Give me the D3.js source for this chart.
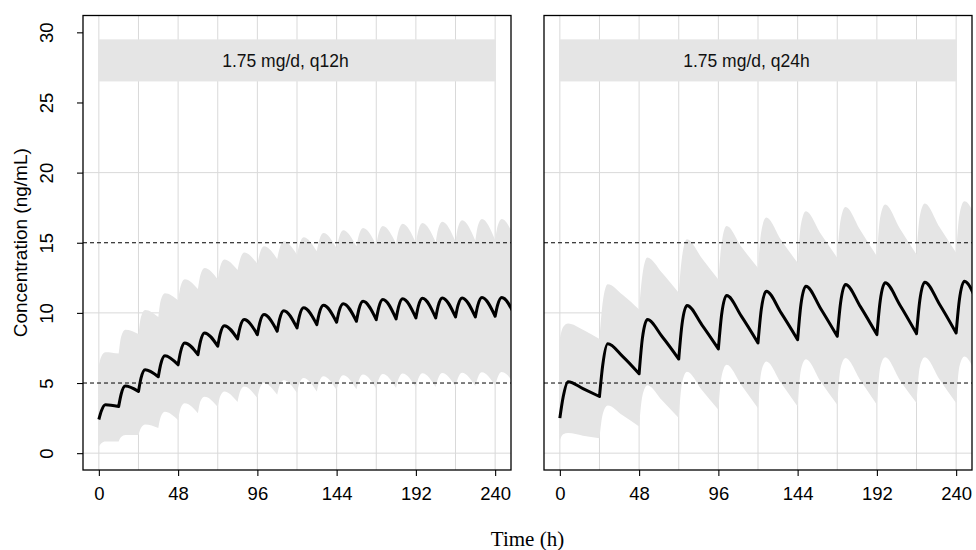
<!DOCTYPE html>
<html>
<head>
<meta charset="utf-8">
<script src="https://cdn.jsdelivr.net/npm/d3@7"></script>
<style>
  body { margin: 0; background: #ffffff; }
  svg { display: block; font-family: "Liberation Sans", Arial, sans-serif; }
</style>
</head>
<body>
<svg id="drawing_region"></svg>
<script>
// ---- data ----
const panelLabels = ["1.75 mg/d, q12h", "1.75 mg/d, q24h"];
const xTicks = [0, 48, 96, 144, 192, 240];
const yTicks = [0, 5, 10, 15, 20, 25, 30];
const xGrid = [0, 24, 48, 72, 96, 120, 144, 168, 192, 216, 240];
const yGrid = [0, 10, 20];
const targetLines = [5, 15];
const stripSpan = [26.5, 29.5];

const doseTimesQ12 = [0, 12, 24, 36, 48, 60, 72, 84, 96, 108, 120, 132, 144, 156, 168, 180, 192, 204, 216, 228, 240];
const timeQ12 = [0,1.5,4, 12,13.5,16, 24,25.5,28, 36,37.5,40, 48,49.5,52, 60,61.5,64, 72,73.5,76, 84,85.5,88,
  96,97.5,100, 108,109.5,112, 120,121.5,124, 132,133.5,136, 144,145.5,148, 156,157.5,160, 168,169.5,172,
  180,181.5,184, 192,193.5,196, 204,205.5,208, 216,217.5,220, 228,229.5,232, 240,241.5,244, 252];
const medianQ12 = [2.4,3.0,3.45, 3.33,4.2,4.78, 4.4,5.33,5.95, 5.45,6.35,6.95, 6.3,7.23,7.85, 7.02,7.95,8.57,
  7.62,8.5,9.09, 8.14,8.97,9.52, 8.45,9.31,9.88, 8.69,9.57,10.16, 8.93,9.79,10.36, 9.16,9.99,10.55,
  9.33,10.13,10.66, 9.4,10.26,10.83, 9.52,10.38,10.95, 9.57,10.43,11.0, 9.64,10.48,11.04, 9.64,10.5,11.07,
  9.71,10.53,11.07, 9.71,10.54,11.1, 9.76,10.56,11.1, 9.78];
const upperQ12 = [6.3,6.9,7.2, 7.1,8.3,8.8, 8.5,9.7,10.2, 9.7,10.9,11.4, 10.9,11.9,12.4, 11.7,12.7,13.2,
  12.4,13.3,13.8, 13.05,13.8,14.3, 13.5,14.25,14.75, 13.85,14.6,15.1, 14.15,14.9,15.4, 14.4,15.2,15.7,
  14.6,15.4,15.9, 14.75,15.55,16.05, 14.85,15.7,16.2, 14.95,15.85,16.35, 15.0,15.9,16.4, 15.05,16.0,16.5,
  15.1,16.1,16.6, 15.15,16.2,16.7, 15.2,16.2,16.7, 15.25];
const lowerQ12 = [0.47,0.7,0.84, 0.84,1.15,1.3, 1.3,1.8,2.05, 1.8,2.6,2.95, 2.35,3.2,3.55, 2.85,3.7,4.02,
  3.3,4.05,4.4, 3.65,4.4,4.76, 3.93,4.65,5.0, 4.16,4.85,5.19, 4.29,5.0,5.36, 4.4,5.1,5.48,
  4.5,5.18,5.55, 4.55,5.22,5.6, 4.6,5.27,5.65, 4.65,5.3,5.68, 4.7,5.32,5.7, 4.72,5.34,5.72,
  4.75,5.36,5.74, 4.78,5.38,5.76, 4.8,5.4,5.78, 4.85];

const doseTimesQ24 = [0, 24, 48, 72, 96, 120, 144, 168, 192, 216, 240];
const timeQ24 = [0,2,5,14, 24,26,29,38, 48,50,53,62, 72,74,77,86, 96,98,101,110, 120,122,125,134,
  144,146,149,158, 168,170,173,182, 192,194,197,206, 216,218,221,230, 240,242,245, 252];
const medianQ24 = [2.5,4.0,5.1,4.6, 4.04,6.3,7.8,6.9, 5.66,8.2,9.52,8.3, 6.71,9.2,10.52,9.15, 7.43,9.9,11.24,9.75,
  7.86,10.25,11.54,10.0, 8.09,10.6,11.9,10.3, 8.33,10.7,12.02,10.45, 8.45,10.85,12.14,10.55,
  8.52,10.9,12.19,10.6, 8.57,10.97,12.26, 10.95];
const upperQ24 = [8.2,9.0,9.24,8.8, 8.14,10.8,12.05,11.3, 10.24,12.7,13.95,12.85, 11.43,14.0,15.25,13.9,
  12.38,15.0,16.2,14.7, 13.2,15.8,16.8,15.2, 13.57,16.3,17.25,15.65, 13.93,16.6,17.55,15.9,
  14.04,16.8,17.72,16.0, 14.16,16.9,17.8,16.1, 14.29,17.0,17.95, 16.8];
const lowerQ24 = [0.95,1.35,1.43,1.25, 1.07,2.8,3.4,2.7, 1.9,4.1,4.85,3.75, 2.5,5.0,5.8,4.5,
  3.09,5.5,6.3,4.85, 3.2,5.8,6.54,5.0, 3.33,5.95,6.7,5.1, 3.45,6.05,6.78,5.2,
  3.45,6.1,6.83,5.2, 3.57,6.15,6.83,5.25, 3.57,6.2,6.9, 5.6];

const panels = [
  { label: panelLabels[0], time: timeQ12, doses: doseTimesQ12, median: medianQ12, lower: lowerQ12, upper: upperQ12 },
  { label: panelLabels[1], time: timeQ24, doses: doseTimesQ24, median: medianQ24, lower: lowerQ24, upper: upperQ24 }
];

// ---- layout ----
const config = {
    width: 976,
    height: 550,
    top: 15.5,
    panelHeight: 454.5,
    panelWidth: 428,
    panelLefts: [83, 544]
};

const svg = d3.select('#drawing_region')
    .attr('width', config.width)
    .attr('height', config.height);

const yscale = d3.scaleLinear()
    .domain([-1.2, 31.2])
    .range([config.panelHeight, 0]);

// split a series at each dose so troughs stay sharp
function doseSegments(time, doses) {
    const cuts = doses.map(d => time.indexOf(d));
    cuts.push(time.length - 1);
    const segs = [];
    for (let k = 0; k < cuts.length - 1; k++) segs.push(d3.range(cuts[k], cuts[k + 1] + 1));
    return segs;
}

panels.forEach((p, pi) => {
    const xscale = d3.scaleLinear()
        .domain([-9.6, 249.6])
        .range([0, config.panelWidth]);

    const g = svg.append('g')
        .attr('transform', `translate(${config.panelLefts[pi]}, ${config.top})`);

    const clipId = 'clip' + pi;
    g.append('clipPath').attr('id', clipId)
      .append('rect')
        .attr('width', config.panelWidth)
        .attr('height', config.panelHeight);

    // grid
    g.selectAll('.vgrid').data(xGrid).join('line')
        .attr('x1', d => xscale(d)).attr('x2', d => xscale(d))
        .attr('y1', 0).attr('y2', config.panelHeight)
        .attr('stroke', '#d9d9d9').attr('stroke-width', 1);
    g.selectAll('.hgrid').data(yGrid).join('line')
        .attr('x1', 0).attr('x2', config.panelWidth)
        .attr('y1', d => yscale(d)).attr('y2', d => yscale(d))
        .attr('stroke', '#d9d9d9').attr('stroke-width', 1);

    // strip label
    g.append('rect')
        .attr('x', xscale(0))
        .attr('width', xscale(240) - xscale(0))
        .attr('y', yscale(stripSpan[1]))
        .attr('height', yscale(stripSpan[0]) - yscale(stripSpan[1]))
        .attr('fill', '#e5e5e5');
    g.append('text')
        .attr('x', xscale(113))
        .attr('y', (yscale(stripSpan[0]) + yscale(stripSpan[1])) / 2)
        .attr('dy', '0.36em')
        .attr('text-anchor', 'middle')
        .attr('font-size', 17.5)
        .attr('fill', '#111')
        .text(p.label);

    const segs = doseSegments(p.time, p.doses);
    const plot = g.append('g').attr('clip-path', `url(#${clipId})`);

    const area = d3.area()
        .x(i => xscale(p.time[i]))
        .y0(i => yscale(p.lower[i]))
        .y1(i => yscale(p.upper[i]))
        .curve(d3.curveMonotoneX);
    plot.append('path')
        .attr('d', segs.map(s => area(s)).join(''))
        .attr('fill', '#e5e5e5');

    plot.selectAll('.target').data(targetLines).join('line')
        .attr('x1', 0).attr('x2', config.panelWidth)
        .attr('y1', d => yscale(d)).attr('y2', d => yscale(d))
        .attr('stroke', '#000').attr('stroke-width', 1)
        .attr('stroke-dasharray', '4,3');

    const line = d3.line()
        .x(i => xscale(p.time[i]))
        .y(i => yscale(p.median[i]))
        .curve(d3.curveMonotoneX);
    plot.append('path')
        .attr('d', segs.map((s, k) => k === 0 ? line(s) : line(s).replace(/^M/, 'L')).join(''))
        .attr('fill', 'none')
        .attr('stroke', '#000')
        .attr('stroke-width', 3)
        .attr('stroke-linejoin', 'round');

    // border
    g.append('rect')
        .attr('width', config.panelWidth)
        .attr('height', config.panelHeight)
        .attr('fill', 'none')
        .attr('stroke', '#000')
        .attr('stroke-width', 1.3);

    // x axis
    const xaxis = g.append('g')
        .attr('transform', `translate(0, ${config.panelHeight})`)
        .call(d3.axisBottom(xscale).tickValues(xTicks).tickSize(6).tickPadding(11));
    xaxis.select('.domain').remove();
    xaxis.selectAll('line').attr('stroke', '#000').attr('stroke-width', 1.1);
    xaxis.selectAll('text')
        .attr('font-size', 18.5)
        .attr('font-family', '"Liberation Sans", Arial, sans-serif')
        .attr('fill', '#000');

    // y axis on the left panel only
    if (pi === 0) {
        const yaxis = g.append('g')
            .call(d3.axisLeft(yscale).tickValues(yTicks).tickSize(6));
        yaxis.select('.domain').remove();
        yaxis.selectAll('line').attr('stroke', '#000').attr('stroke-width', 1.1);
        yaxis.selectAll('text')
            .attr('x', 0).attr('dy', 0)
            .attr('text-anchor', 'middle')
            .attr('transform', 'translate(-30, 0) rotate(-90)')
            .attr('font-size', 18.5)
            .attr('font-family', '"Liberation Sans", Arial, sans-serif')
            .attr('fill', '#000');
    }
});

// axis titles
svg.append('text')
    .attr('transform', `translate(27, ${config.top + config.panelHeight / 2}) rotate(-90)`)
    .attr('text-anchor', 'middle')
    .attr('font-size', 19)
    .text('Concentration (ng/mL)');

svg.append('text')
    .attr('x', (config.panelLefts[0] + config.panelLefts[1] + config.panelWidth) / 2)
    .attr('y', 546)
    .attr('text-anchor', 'middle')
    .attr('font-family', '"Liberation Serif", "Times New Roman", serif')
    .attr('font-size', 21)
    .text('Time (h)');
</script>
</body>
</html>
